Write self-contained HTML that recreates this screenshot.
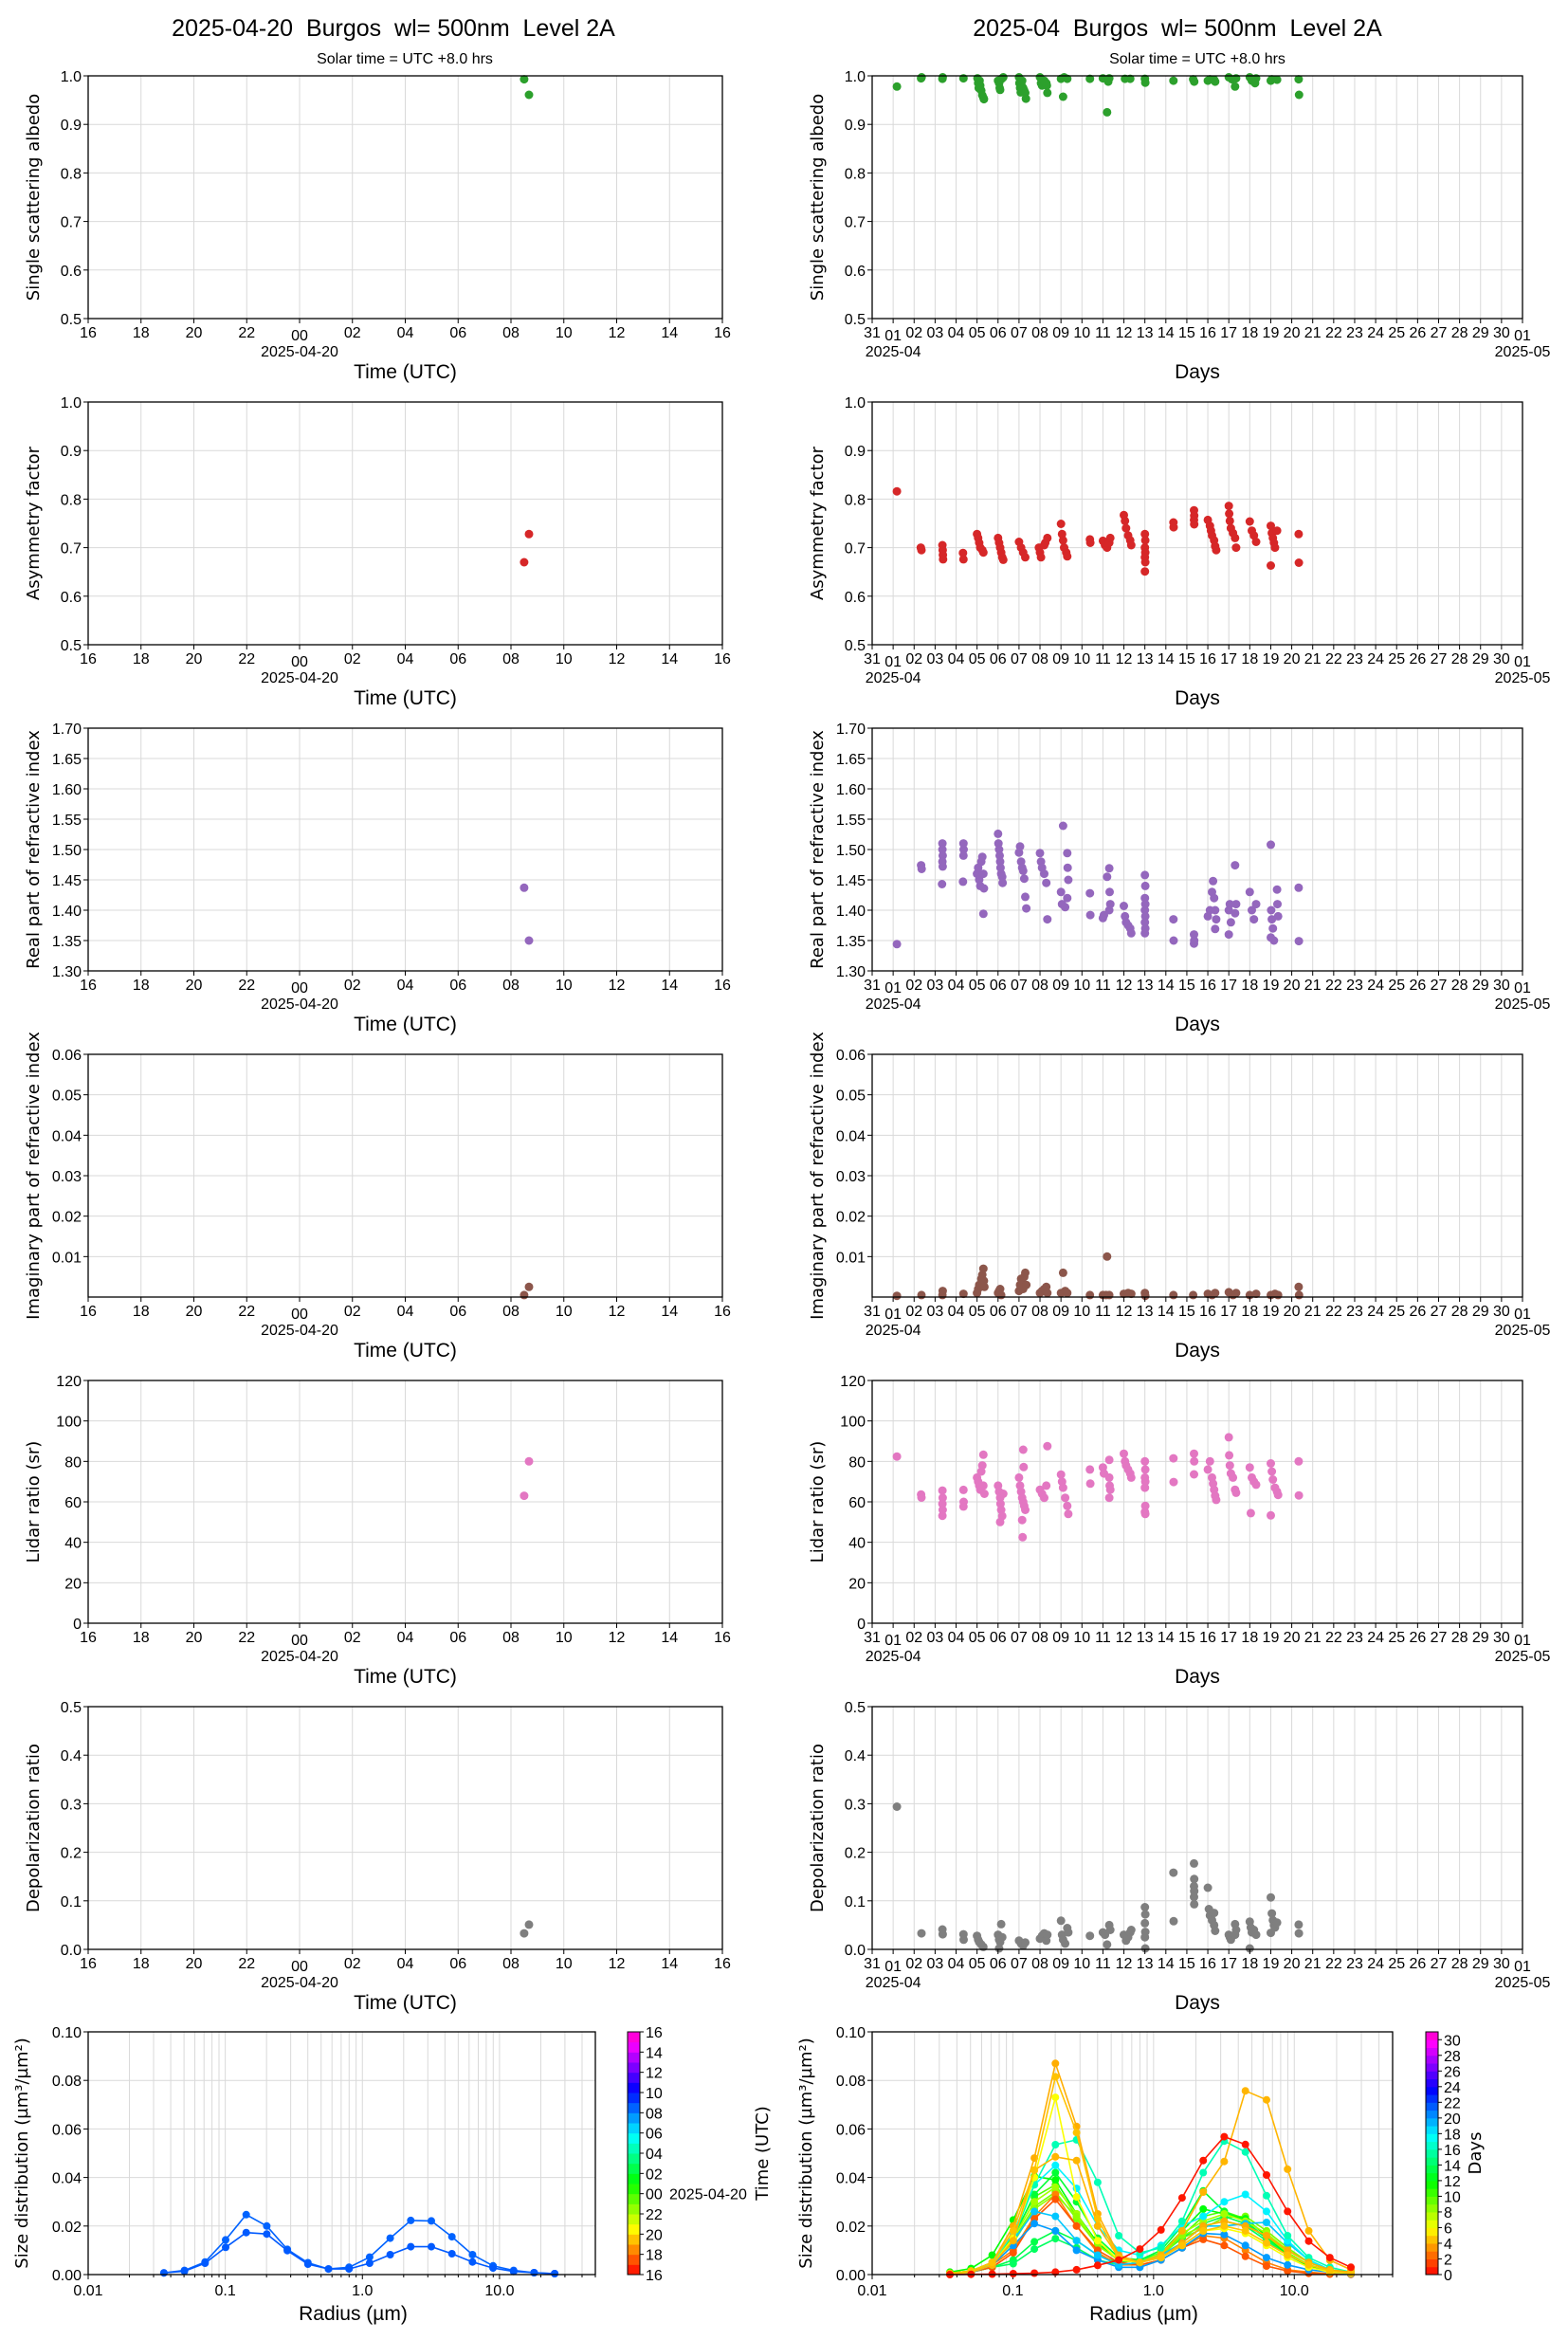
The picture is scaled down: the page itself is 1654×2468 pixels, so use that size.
<!DOCTYPE html>
<html><head><meta charset="utf-8"><title>Burgos Level 2A</title>
<style>
html,body{margin:0;padding:0;background:#fff;}
svg{display:block;}
.tk{font-family:"Liberation Sans Narrow","Liberation Sans",sans-serif;font-size:16px;fill:#000;}
.lab{font-family:"DejaVu Sans","Liberation Sans",sans-serif;font-size:18px;fill:#000;}
.nar{font-family:"Liberation Sans Narrow","Liberation Sans",sans-serif;fill:#000;}
.pre{white-space:pre;}
</style></head>
<body>
<svg id="chart" width="1654" height="2468" viewBox="0 0 1654 2468" xmlns="http://www.w3.org/2000/svg">
<rect width="1654" height="2468" fill="#fff"/>
<text class="nar pre" x="415" y="38" font-size="25" text-anchor="middle">2025-04-20  Burgos  wl= 500nm  Level 2A</text>
<text class="nar" x="427" y="67" font-size="16" text-anchor="middle">Solar time = UTC +8.0 hrs</text>
<text class="nar pre" x="1242" y="38" font-size="25" text-anchor="middle">2025-04  Burgos  wl= 500nm  Level 2A</text>
<text class="nar" x="1263" y="67" font-size="16" text-anchor="middle">Solar time = UTC +8.0 hrs</text>
</svg>
<script>
// ---------- data ----------
const timeTickLabels = ['16','18','20','22','00','02','04','06','08','10','12','14','16'];
const dayTickLabels = ['31','01','02','03','04','05','06','07','08','09','10','11','12','13','14','15','16','17','18','19','20','21','22','23','24','25','26','27','28','29','30','01'];

const dayHours = [8.5, 8.68];
const daySSA = [0.993, 0.961];
const dayAsym = [0.67, 0.728];
const dayReal = [1.437, 1.35];
const dayImag = [0.0005, 0.0025];
const dayLidar = [63, 80];
const dayDepol = [0.033, 0.051];

const monthSSA = [[1.18,.978],[2.33,.995],[2.36,.997],[3.35,.994],[3.36,.997],[4.35,.995],[5.02,.995],[5.05,.985],[5.08,.975],[5.12,.99],[5.15,.98],[5.2,.97],[5.25,.96],[5.3,.955],[5.33,.952],[6.0,.99],[6.05,.985],[6.08,.975],[6.1,.971],[6.15,.993],[6.2,.995],[6.25,.997],[7.0,.997],[7.02,.985],[7.05,.975],[7.08,.966],[7.12,.98],[7.15,.99],[7.2,.975],[7.25,.97],[7.33,.953],[7.3,.965],[8.0,.997],[8.05,.985],[8.1,.98],[8.2,.99],[8.3,.985],[8.35,.965],[8.33,.98],[9.0,.994],[9.1,.957],[9.15,.997],[9.3,.994],[10.38,.994],[11.0,.995],[11.2,.925],[11.25,.988],[11.3,.995],[12.05,.994],[12.3,.994],[13.0,.994],[13.02,.986],[14.36,.99],[15.3,.993],[15.35,.988],[16.0,.99],[16.1,.993],[16.3,.992],[16.35,.988],[17.0,.997],[17.15,.993],[17.3,.978],[17.35,.995],[18.0,.997],[18.1,.99],[18.25,.985],[18.3,.995],[19.0,.99],[19.05,.993],[19.3,.992],[20.33,.993],[20.35,.961]];
const monthAsym = [[1.18,.816],[2.32,.70],[2.35,.695],[3.35,.705],[3.36,.695],[3.37,.685],[3.38,.676],[4.33,.689],[4.35,.676],[5.0,.728],[5.05,.72],[5.1,.71],[5.15,.70],[5.25,.695],[5.3,.69],[6.0,.72],[6.05,.71],[6.1,.70],[6.15,.69],[6.2,.68],[6.25,.675],[7.0,.712],[7.1,.70],[7.2,.69],[7.3,.68],[7.95,.70],[8.0,.69],[8.05,.68],[8.2,.705],[8.25,.71],[8.35,.72],[9.0,.749],[9.05,.728],[9.1,.715],[9.15,.70],[9.25,.69],[9.3,.682],[10.38,.717],[10.4,.71],[11.0,.714],[11.1,.705],[11.2,.70],[11.3,.71],[11.35,.72],[12.0,.767],[12.05,.755],[12.1,.74],[12.2,.725],[12.3,.715],[12.35,.705],[13.0,.728],[13.02,.715],[13.0,.70],[13.02,.69],[13.0,.68],[13.02,.67],[13.0,.651],[14.36,.752],[14.37,.742],[15.34,.777],[15.35,.766],[15.34,.757],[15.35,.748],[16.0,.757],[16.1,.745],[16.15,.735],[16.2,.725],[16.3,.715],[16.35,.703],[16.4,.695],[17.0,.786],[17.02,.77],[17.05,.755],[17.1,.74],[17.2,.73],[17.3,.72],[17.35,.70],[18.0,.754],[18.1,.735],[18.2,.725],[18.3,.712],[19.0,.745],[19.05,.73],[19.1,.72],[19.15,.71],[19.2,.70],[19.0,.663],[19.3,.735],[20.33,.728],[20.34,.669]];
const monthReal = [[1.18,1.344],[2.33,1.474],[2.36,1.468],[3.35,1.51],[3.35,1.50],[3.36,1.49],[3.35,1.48],[3.36,1.472],[3.33,1.443],[4.35,1.51],[4.36,1.50],[4.35,1.49],[4.33,1.447],[5.0,1.46],[5.05,1.47],[5.1,1.45],[5.15,1.44],[5.2,1.48],[5.25,1.488],[5.3,1.46],[5.33,1.436],[5.3,1.394],[6.0,1.526],[6.02,1.51],[6.05,1.50],[6.08,1.49],[6.1,1.48],[6.12,1.47],[6.15,1.46],[6.2,1.455],[6.22,1.445],[7.0,1.495],[7.05,1.505],[7.1,1.48],[7.15,1.47],[7.2,1.465],[7.25,1.452],[7.3,1.422],[7.35,1.403],[8.0,1.494],[8.05,1.48],[8.1,1.47],[8.2,1.46],[8.3,1.445],[8.35,1.385],[9.0,1.43],[9.05,1.41],[9.1,1.539],[9.2,1.405],[9.3,1.494],[9.32,1.47],[9.35,1.45],[9.3,1.42],[10.38,1.428],[10.4,1.392],[11.0,1.387],[11.05,1.392],[11.2,1.455],[11.3,1.469],[11.32,1.43],[11.35,1.41],[11.3,1.40],[12.0,1.407],[12.05,1.39],[12.1,1.38],[12.2,1.375],[12.3,1.37],[12.35,1.362],[13.0,1.458],[13.02,1.44],[13.0,1.42],[13.02,1.41],[13.0,1.40],[13.02,1.39],[13.0,1.38],[13.02,1.37],[13.0,1.362],[14.36,1.385],[14.37,1.35],[15.34,1.36],[15.35,1.35],[15.34,1.345],[16.0,1.39],[16.1,1.40],[16.2,1.43],[16.25,1.448],[16.3,1.42],[16.35,1.40],[16.4,1.385],[16.35,1.369],[17.0,1.40],[17.05,1.41],[17.1,1.38],[17.0,1.36],[17.3,1.474],[17.35,1.41],[17.3,1.395],[18.0,1.43],[18.1,1.40],[18.2,1.385],[18.3,1.41],[19.0,1.508],[19.02,1.40],[19.05,1.385],[19.1,1.37],[19.0,1.355],[19.15,1.35],[19.3,1.434],[19.32,1.41],[19.35,1.39],[20.33,1.437],[20.34,1.349]];
const monthImag = [[1.18,.0003],[2.35,.0005],[3.35,.0005],[3.36,.0015],[4.35,.0008],[5.0,.001],[5.05,.002],[5.1,.003],[5.2,.0045],[5.25,.0055],[5.3,.007],[5.33,.004],[5.35,.0025],[6.0,.001],[6.05,.0015],[6.1,.002],[6.15,.0005],[7.0,.0015],[7.05,.003],[7.1,.0045],[7.15,.0035],[7.2,.002],[7.25,.005],[7.3,.006],[7.35,.003],[8.0,.001],[8.1,.0015],[8.2,.002],[8.3,.0025],[8.35,.001],[9.0,.001],[9.1,.006],[9.2,.0015],[9.3,.001],[10.38,.0005],[11.0,.0005],[11.15,.0005],[11.2,.010],[11.3,.0005],[12.0,.0008],[12.2,.001],[12.35,.0008],[13.0,.001],[13.02,.0003],[14.36,.0005],[15.3,.0005],[16.0,.0008],[16.2,.0005],[16.35,.001],[17.0,.0012],[17.2,.0005],[17.35,.001],[18.0,.0005],[18.3,.0008],[19.0,.0005],[19.2,.0008],[19.35,.0005],[20.33,.0025],[20.35,.0005]];
const monthLidar = [[1.18,82.4],[2.33,63.6],[2.35,62.1],[3.35,65.6],[3.36,62],[3.35,59],[3.36,56],[3.35,53.1],[4.35,65.9],[4.36,60],[4.35,57.7],[5.0,72],[5.05,70],[5.1,68],[5.15,66],[5.2,75],[5.25,78],[5.3,83.3],[5.3,68],[5.35,64],[6.0,68],[6.05,65],[6.1,62],[6.12,59],[6.15,56],[6.2,53],[6.1,50],[6.25,64],[7.0,72],[7.05,68],[7.1,65],[7.15,62],[7.2,60],[7.25,58],[7.3,56],[7.2,85.8],[7.22,77.2],[7.15,51],[7.17,42.5],[8.0,66],[8.1,64],[8.2,62],[8.3,68],[8.35,87.5],[9.0,73.5],[9.05,70],[9.1,67],[9.2,62],[9.3,58],[9.35,54],[10.38,76],[10.4,69],[11.0,77],[11.05,74],[11.3,80.7],[11.3,72],[11.32,68],[11.35,66],[11.3,62],[12.0,83.8],[12.05,80],[12.1,78],[12.2,76],[12.3,74],[12.35,72],[13.0,80],[13.02,76],[13.0,72],[13.02,70],[13.0,67],[13.02,58],[13.0,55],[13.02,54],[14.36,81.5],[14.37,69.8],[15.34,83.8],[15.35,80],[15.34,73.6],[16.0,76],[16.1,80],[16.2,72],[16.25,69],[16.3,66],[16.35,63],[16.4,61],[17.0,91.9],[17.02,83],[17.05,78],[17.1,74],[17.2,72],[17.3,66],[17.35,64.5],[18.0,77],[18.1,72],[18.2,70],[18.3,68.5],[18.05,54.4],[19.0,79],[19.05,75],[19.1,71],[19.2,67],[19.3,65],[19.35,63.4],[19.0,53.3],[20.33,80],[20.34,63.2]];
const monthDepol = [[1.18,.294],[2.35,.033],[3.35,.041],[3.36,.031],[4.35,.031],[4.36,.02],[5.0,.028],[5.05,.02],[5.1,.015],[5.2,.01],[5.3,.005],[6.0,.03],[6.05,.02],[6.1,.015],[6.15,.052],[6.2,.025],[6.05,.002],[7.0,.018],[7.1,.012],[7.2,.008],[7.3,.014],[8.0,.022],[8.1,.028],[8.2,.033],[8.3,.018],[8.35,.03],[9.0,.059],[9.05,.03],[9.1,.02],[9.2,.012],[9.3,.044],[9.35,.035],[10.38,.028],[11.0,.035],[11.1,.03],[11.2,.01],[11.3,.05],[11.35,.04],[12.0,.03],[12.1,.018],[12.2,.025],[12.3,.035],[12.35,.04],[13.0,.087],[13.02,.072],[13.0,.054],[13.02,.036],[13.0,.025],[13.02,.002],[14.36,.158],[14.37,.058],[15.34,.177],[15.35,.145],[15.34,.13],[15.35,.12],[15.34,.108],[15.35,.093],[16.0,.127],[16.05,.083],[16.1,.07],[16.2,.06],[16.3,.05],[16.35,.038],[16.3,.075],[17.0,.03],[17.05,.025],[17.1,.02],[17.3,.052],[17.35,.04],[17.3,.03],[18.0,.057],[18.05,.045],[18.1,.035],[18.2,.04],[18.3,.03],[18.0,.002],[19.0,.107],[19.05,.074],[19.1,.06],[19.15,.05],[19.2,.045],[19.3,.055],[19.0,.034],[20.33,.051],[20.34,.033]];

const sdRadiusExp = [0,1,2,3,4,5,6,7,8,9,10,11,12,13,14,15,16,17,18,19];
const sdDayA = [0.0007,0.0017,0.0052,0.0143,0.0247,0.020,0.0104,0.0049,0.0023,0.003,0.0072,0.015,0.0223,0.0221,0.0156,0.0082,0.0036,0.0017,0.0008,0.0004];
const sdDayB = [0.0007,0.0014,0.0047,0.0112,0.0173,0.0167,0.0099,0.0043,0.0023,0.0023,0.0047,0.0082,0.0115,0.0115,0.0086,0.0052,0.0027,0.0013,0.0008,0.0004];
const sdDayTimes = [8.5, 8.68];
const sdMonthDays = [9, 10, 13, 13.5, 14, 12, 8, 8.5, 3, 2, 20, 19, 18, 16, 6, 4.2, 4, 4.5, 0.5];
const sdMonthCurves = [
[0.0005,0.0015,0.005,0.014,0.028,0.034,0.023,0.012,0.006,0.005,0.008,0.015,0.019,0.0235,0.024,0.018,0.011,0.005,0.002,0.0006],
[0.0005,0.0015,0.005,0.016,0.032,0.037,0.024,0.012,0.006,0.005,0.009,0.016,0.024,0.026,0.023,0.016,0.009,0.004,0.0015,0.0005],
[0.0005,0.0015,0.005,0.015,0.033,0.042,0.03,0.015,0.007,0.006,0.01,0.02,0.0345,0.026,0.022,0.015,0.008,0.004,0.0015,0.0005],
[0.0003,0.001,0.003,0.006,0.0135,0.018,0.014,0.008,0.005,0.006,0.009,0.015,0.021,0.024,0.021,0.015,0.008,0.004,0.0015,0.0005],
[0.0003,0.001,0.003,0.0045,0.0105,0.0148,0.011,0.006,0.004,0.005,0.008,0.013,0.02,0.022,0.02,0.014,0.008,0.004,0.0015,0.0005],
[0.001,0.0025,0.008,0.0225,0.0405,0.039,0.025,0.013,0.006,0.005,0.009,0.018,0.027,0.025,0.023,0.016,0.008,0.0035,0.0012,0.0003],
[0.0005,0.0015,0.005,0.015,0.03,0.036,0.025,0.012,0.006,0.005,0.009,0.017,0.022,0.025,0.022,0.017,0.01,0.005,0.002,0.0005],
[0.0005,0.0015,0.005,0.013,0.027,0.033,0.024,0.012,0.006,0.005,0.008,0.016,0.02,0.022,0.02,0.016,0.009,0.004,0.0015,0.0005],
[0.0003,0.001,0.004,0.01,0.024,0.033,0.02,0.009,0.004,0.004,0.006,0.011,0.016,0.015,0.01,0.005,0.002,0.001,0.0003,0.0001],
[0.0003,0.001,0.003,0.009,0.023,0.031,0.02,0.01,0.005,0.004,0.006,0.011,0.0145,0.012,0.0075,0.0035,0.0015,0.0005,0.0002,0.0001],
[0.0003,0.0008,0.004,0.012,0.021,0.018,0.01,0.006,0.003,0.003,0.006,0.011,0.017,0.0165,0.012,0.007,0.004,0.002,0.001,0.0003],
[0.0003,0.001,0.004,0.014,0.026,0.024,0.014,0.008,0.004,0.005,0.008,0.013,0.02,0.02,0.021,0.0215,0.013,0.006,0.002,0.001],
[0.0003,0.001,0.005,0.017,0.037,0.045,0.0355,0.02,0.01,0.008,0.012,0.02,0.024,0.03,0.033,0.026,0.014,0.006,0.002,0.001],
[0.0003,0.001,0.004,0.015,0.037,0.0535,0.0555,0.038,0.016,0.009,0.011,0.022,0.042,0.055,0.0505,0.0325,0.016,0.007,0.003,0.001],
[0.0003,0.001,0.004,0.015,0.04,0.073,0.032,0.014,0.006,0.005,0.007,0.012,0.018,0.019,0.017,0.012,0.007,0.003,0.001,0.0005],
[0.0003,0.001,0.004,0.014,0.043,0.0485,0.047,0.02,0.007,0.005,0.008,0.018,0.034,0.0466,0.0757,0.072,0.0434,0.018,0.0059,0.002],
[0.0005,0.0015,0.005,0.02,0.048,0.087,0.061,0.025,0.008,0.005,0.007,0.013,0.02,0.022,0.02,0.016,0.01,0.005,0.002,0.001],
[0.0005,0.0015,0.005,0.018,0.043,0.0815,0.0585,0.023,0.007,0.005,0.007,0.012,0.018,0.02,0.018,0.013,0.008,0.004,0.0015,0.0005],
[0,0.0001,0.0002,0.0004,0.0006,0.001,0.002,0.0038,0.006,0.0105,0.0184,0.0316,0.047,0.0568,0.0536,0.041,0.026,0.0138,0.007,0.003]
];

// ---------- drawing ----------
const NS = 'http://www.w3.org/2000/svg';
const svg = document.getElementById('chart');
function mk(tag, parent){ const e = document.createElementNS(NS, tag); (parent||svg).appendChild(e); return e; }
function line(p, x1,y1,x2,y2, stroke, sw){ const l = mk('line', p); l.setAttribute('x1',x1); l.setAttribute('y1',y1); l.setAttribute('x2',x2); l.setAttribute('y2',y2); l.setAttribute('stroke',stroke); l.setAttribute('stroke-width',sw); return l; }
function text(p, x,y,str,cls,size,anchor){ const t = mk('text', p); t.setAttribute('x',x); t.setAttribute('y',y); t.setAttribute('class',cls); if(size) t.setAttribute('font-size',size); t.setAttribute('text-anchor',anchor||'middle'); t.textContent = str; return t; }
const GRID = '#d9d9d9';
const ROWS = [80,424,768,1112,1456,1800];
const PH = 256;
const LX = 93, LW = 669, RX = 920, RW = 686;

function hueColor(frac){ return 'hsl(' + (315*frac).toFixed(1) + ',100%,50%)'; }

function panel(cfg){
  const g = mk('g');
  
  
  const x0=cfg.x0, w=cfg.w, y0=cfg.y0, h=PH;
  const sy = v => y0 + h - (v - cfg.ymin)/(cfg.ymax - cfg.ymin)*h;
  const sx = v => x0 + (v - cfg.xmin)/(cfg.xmax - cfg.xmin)*w;
  cfg.xTickVals.forEach(v => { const gl = line(g, sx(v), y0, sx(v), y0+h, GRID, 1);
    
     });
  cfg.yTicks.forEach(v => { const gl = line(g, x0, sy(v), x0+w, sy(v), GRID, 1);
    
     });
  cfg.points.forEach(p => { const c = mk('circle', g); c.setAttribute('cx', sx(p[0]).toFixed(1)); c.setAttribute('cy', sy(p[1]).toFixed(1)); c.setAttribute('r', 4.5); c.setAttribute('fill', cfg.color);
    
     });
  const fr = mk('rect', g); fr.setAttribute('x',x0); fr.setAttribute('y',y0); fr.setAttribute('width',w); fr.setAttribute('height',h); fr.setAttribute('fill','none'); fr.setAttribute('stroke','#000'); fr.setAttribute('stroke-width',1.3);
  
  
  cfg.yTicks.forEach((v,i) => { line(g, x0-5, sy(v), x0, sy(v), '#000', 1);
    const t = text(g, x0-7, sy(v)+6, cfg.yLabels[i], 'tk', 17, 'end');
    
     });
  cfg.xTickVals.forEach((v,i) => { line(g, sx(v), y0+h, sx(v), y0+h+5, '#000', 1);
    const big = cfg.bigTicks.indexOf(i) >= 0;
    const t = text(g, sx(v), y0+h+(big?23:20), cfg.xLabels[i], 'tk', big?20:15, 'middle');
    
     });
  cfg.subLabels.forEach(s => { const t = text(g, sx(s[0]), y0+h+40, s[1], 'tk', 18, 'middle');
    
     });
  const xl = text(g, x0+w/2, y0+h+63, cfg.xlabel, 'nar', 21, 'middle');
  
  
  const yl = text(g, 0, 0, cfg.ylabel, 'lab', 18, 'middle');
  yl.setAttribute('transform','translate(' + (x0-52) + ',' + (y0+h/2) + ') rotate(-90)');
  
  
}

function rng(a,b,s){ const r=[]; for(let v=a; v<=b+1e-9; v+=s) r.push(+v.toFixed(6)); return r; }
const timeTickVals = rng(-8,16,2);
const dayTickVals = rng(0,31,1);

const specs = [
  {key:'ssa', ylabel:'Single scattering albedo', color:'#2ca02c', ymin:0.5, ymax:1.0, yt:rng(0.5,1.0,0.1), dec:1, day:daySSA, month:monthSSA},
  {key:'asym', ylabel:'Asymmetry factor', color:'#d62728', ymin:0.5, ymax:1.0, yt:rng(0.5,1.0,0.1), dec:1, day:dayAsym, month:monthAsym},
  {key:'real', ylabel:'Real part of refractive index', color:'#9467bd', ymin:1.3, ymax:1.7, yt:rng(1.3,1.7,0.05), dec:2, day:dayReal, month:monthReal},
  {key:'imag', ylabel:'Imaginary part of refractive index', color:'#8c564b', ymin:0, ymax:0.06, yt:rng(0.01,0.06,0.01), dec:2, day:dayImag, month:monthImag},
  {key:'lidar', ylabel:'Lidar ratio (sr)', color:'#e377c2', ymin:0, ymax:120, yt:rng(0,120,20), dec:0, day:dayLidar, month:monthLidar},
  {key:'depol', ylabel:'Depolarization ratio', color:'#7f7f7f', ymin:0, ymax:0.5, yt:rng(0,0.5,0.1), dec:1, day:dayDepol, month:monthDepol}
];

specs.forEach((s,i) => {
  const ylabs = s.yt.map(v => v.toFixed(s.dec));
  panel({name:s.key+'-daily-panel', x0:LX, w:LW, y0:ROWS[i], xmin:-8, xmax:16, ymin:s.ymin, ymax:s.ymax,
    xTickVals:timeTickVals, xLabels:timeTickLabels, bigTicks:[4], subLabels:[[0,'2025-04-20']],
    yTicks:s.yt, yLabels:ylabs, points:dayHours.map((h,j)=>[h, s.day[j]]), color:s.color,
    xlabel:'Time (UTC)', ylabel:s.ylabel});
  panel({name:s.key+'-monthly-panel', x0:RX, w:RW, y0:ROWS[i], xmin:0, xmax:31, ymin:s.ymin, ymax:s.ymax,
    xTickVals:dayTickVals, xLabels:dayTickLabels, bigTicks:[1,31], subLabels:[[1,'2025-04'],[31,'2025-05']],
    yTicks:s.yt, yLabels:ylabs, points:s.month, color:s.color,
    xlabel:'Days', ylabel:s.ylabel});
});

// ---------- size distribution ----------
const sdYTicks = [0,0.02,0.04,0.06,0.08,0.10];
const sdXLabels = ['0.01','0.1','1.0','10.0'];
function sdPanel(name, x0, w, curves, colors){
  const y0 = 2143, h = 256;
  const g = mk('g');
  
  
  const lmin = -2, lmax = Math.log10(50);
  const sx = r => x0 + (Math.log10(r)-lmin)/(lmax-lmin)*w;
  const sy = v => y0 + h - v/0.1*h;
  for(let d=-2; d<=1; d++){ for(let m=1; m<=9; m++){ const r = m*Math.pow(10,d); if(r>50) break;
    const gl = line(g, sx(r), y0, sx(r), y0+h, GRID, 1);
    
    
    line(g, sx(r), y0+h, sx(r), y0+h+(m===1?5:3), '#000', 1); } }
  sdYTicks.forEach(v => { const gl = line(g, x0, sy(v), x0+w, sy(v), GRID, 1);
    
    
    line(g, x0-5, sy(v), x0, sy(v), '#000', 1);
    const t = text(g, x0-7, sy(v)+6, v.toFixed(2), 'tk', 17, 'end');
    
     });
  sdXLabels.forEach(lbl => { const t = text(g, sx(parseFloat(lbl)), y0+h+22, lbl, 'tk', 18, 'middle');
    
     });
  curves.forEach((c,ci) => {
    const pts = c.map((v,k) => sx(0.0357*Math.pow(10,0.15*sdRadiusExp[k])).toFixed(1)+','+sy(v).toFixed(1)).join(' ');
    const pl = mk('polyline', g); pl.setAttribute('points', pts); pl.setAttribute('fill','none'); pl.setAttribute('stroke', colors[ci]); pl.setAttribute('stroke-width', 1.6);
    
    
    c.forEach((v,k) => { const m = mk('circle', g); m.setAttribute('cx', sx(0.0357*Math.pow(10,0.15*sdRadiusExp[k])).toFixed(1)); m.setAttribute('cy', sy(v).toFixed(1)); m.setAttribute('r', 4); m.setAttribute('fill', colors[ci]);
      
       });
  });
  const fr = mk('rect', g); fr.setAttribute('x',x0); fr.setAttribute('y',y0); fr.setAttribute('width',w); fr.setAttribute('height',h); fr.setAttribute('fill','none'); fr.setAttribute('stroke','#000'); fr.setAttribute('stroke-width',1.3);
  
  
  const xl = text(g, x0+w/2+12, 2447, 'Radius (µm)', 'nar', 21, 'middle');
  
  
  const yl = text(g, 0, 0, 'Size distribution (µm³/µm²)', 'lab', 18, 'middle');
  yl.setAttribute('transform','translate(' + (x0-64) + ',' + (y0+h/2) + ') rotate(-90)');
  
  
}
sdPanel('size-distribution-daily', 93, 535, [sdDayA, sdDayB], sdDayTimes.map(t => hueColor((t+8)/24)));
sdPanel('size-distribution-monthly', 920, 549, sdMonthCurves, sdMonthDays.map(d => hueColor(d/31)));

// ---------- colorbars ----------
const cbTimeLabels = ['16','18','20','22','00','02','04','06','08','10','12','14','16'];
const cbDayLabels = ['0','2','4','6','8','10','12','14','16','18','20','22','24','26','28','30'];
function colorbar(name, x0, n, labels, step, total, title, titleX){
  const y0 = 2143, h = 256, w = 13;
  const g = mk('g');
  
  
  for(let i=0;i<n;i++){ const r = mk('rect', g); r.setAttribute('x',x0); r.setAttribute('y',(y0+h-(i+1)*h/n).toFixed(2)); r.setAttribute('width',w); r.setAttribute('height',(h/n+0.5).toFixed(2)); r.setAttribute('fill', hueColor((i+0.5)/n));
    
     }
  const fr = mk('rect', g); fr.setAttribute('x',x0); fr.setAttribute('y',y0); fr.setAttribute('width',w); fr.setAttribute('height',h); fr.setAttribute('fill','none'); fr.setAttribute('stroke','#000'); fr.setAttribute('stroke-width',1);
  labels.forEach((lb,i) => { const y = y0 + h - (i*step)/total*h; line(g, x0+w, y, x0+w+4, y, '#000', 1);
    const t = text(g, x0+w+6, y+6, lb, 'tk', 16, 'start');
    
     });
  const tt = text(g, 0, 0, title, 'lab', 21, 'middle');
  tt.setAttribute('transform','translate(' + titleX + ',' + (y0+h/2) + ') rotate(-90)');
  
  
  return g;
}
const cbL = colorbar('time-colorbar', 662, 24, cbTimeLabels, 2, 24, 'Time (UTC)', 810);
const dl = text(cbL, 706, 2143+256-8/24*256+6, '2025-04-20', 'tk', 14, 'start');


colorbar('days-colorbar', 1504, 31, cbDayLabels, 2, 31, 'Days', 1562);
</script>
</body></html>
